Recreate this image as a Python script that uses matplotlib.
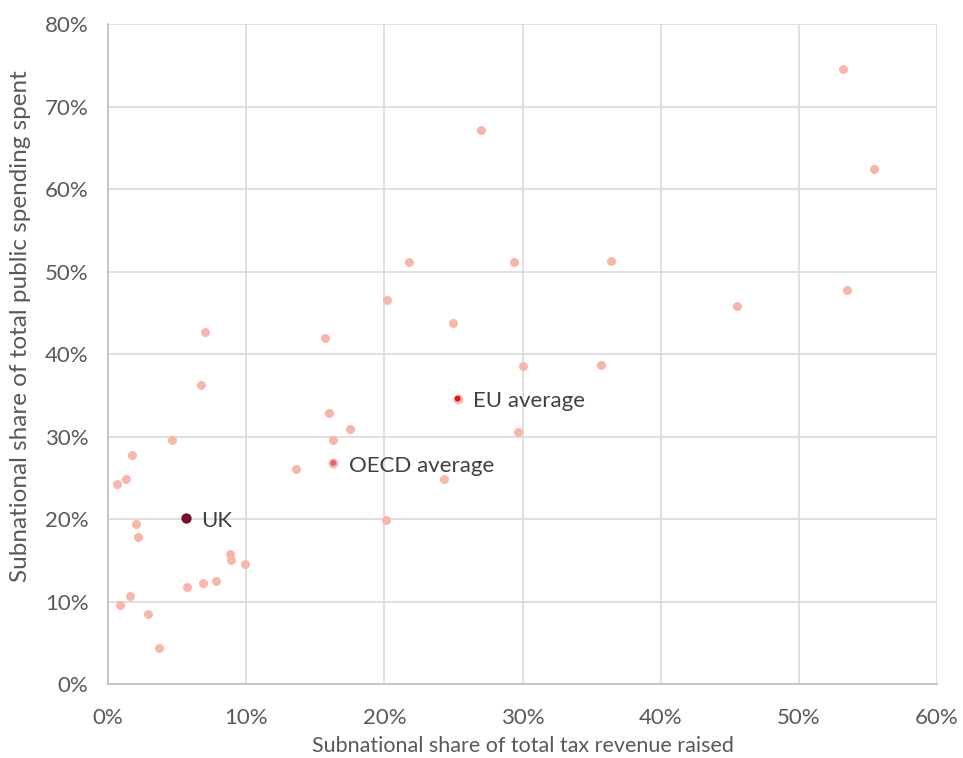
import numpy as np
import matplotlib.pyplot as plt
from matplotlib.ticker import FuncFormatter, MultipleLocator

# Country points (share of tax revenue raised, share of spending), in %
tax_share = [53.2, 55.4, 27.0, 21.8, 29.4, 36.4, 20.2, 25.0, 45.5, 53.5,
             7.0, 15.7, 30.0, 35.7, 6.7, 16.0, 17.5, 16.3, 29.7, 4.6,
             13.6, 24.3, 1.7, 0.65, 1.3, 2.0, 2.2, 20.1, 8.8, 8.9,
             9.9, 7.8, 6.9, 5.7, 1.6, 0.9, 2.9, 3.7]
spend_share = [74.6, 62.4, 67.1, 51.1, 51.1, 51.3, 46.5, 43.8, 45.8, 47.8,
               42.7, 41.9, 38.5, 38.7, 36.3, 32.9, 30.9, 29.6, 30.5, 29.6,
               26.1, 24.9, 27.8, 24.3, 24.8, 19.4, 17.8, 19.9, 15.7, 15.0,
               14.5, 12.5, 12.3, 11.8, 10.7, 9.6, 8.5, 4.4]

labels = ["EU average", "OECD average", "UK"]
label_tax = [25.3, 16.3, 5.65]
label_spend = [34.6, 26.8, 20.1]
label_colors = ["#E3121E", "#F0606C", "#7A0C2A"]

plt.rcParams['font.family'] = ['Lato', 'DejaVu Sans']

fig = plt.figure(figsize=(9.63, 7.58), dpi=100)
ax = fig.add_axes([0.1122, 0.0976, 0.8609, 0.8707])

ax.scatter(tax_share, spend_share, s=42, color="#F8B6AA", zorder=3, linewidths=0)

# highlighted points
ax.scatter(label_tax[:2], label_spend[:2], s=50, color="#F8B6AA", zorder=3, linewidths=0)
ax.scatter(label_tax[:2], label_spend[:2], s=18, color=label_colors[:2], zorder=4, linewidths=0)
ax.scatter(label_tax[2:], label_spend[2:], s=55, color=label_colors[2:], zorder=4, linewidths=0)

for name, x, y in zip(labels, label_tax, label_spend):
    ax.annotate(name, (x, y), xytext=(11, -2), textcoords="offset points",
                va="center", ha="left", fontsize=16, color="#404040")

ax.set_xlim(0, 60)
ax.set_ylim(0, 80)
ax.xaxis.set_major_locator(MultipleLocator(10))
ax.yaxis.set_major_locator(MultipleLocator(10))
pct = FuncFormatter(lambda v, p: f"{v:.0f}%")
ax.xaxis.set_major_formatter(pct)
ax.yaxis.set_major_formatter(pct)

ax.grid(True, color="#D9D9D9", linewidth=1.2, zorder=0)
ax.set_axisbelow(True)
for s in ["top", "right"]:
    ax.spines[s].set_visible(False)
for s in ["left", "bottom"]:
    ax.spines[s].set_color("#BFBFBF")
    ax.spines[s].set_linewidth(1.2)
ax.tick_params(length=0, labelsize=16, labelcolor="#595959")
ax.tick_params(axis="x", pad=17)
ax.tick_params(axis="y", pad=14)

ax.set_xlabel("Subnational share of total tax revenue raised", fontsize=15.5,
              color="#595959", va="center")
ax.set_ylabel("Subnational share of total public spending spent", fontsize=17.5,
              color="#595959", va="center")
ax.xaxis.set_label_coords(0.5, -0.094)
ax.yaxis.set_label_coords(-0.106, 0.542)

fig.savefig("out.png", dpi=100)
